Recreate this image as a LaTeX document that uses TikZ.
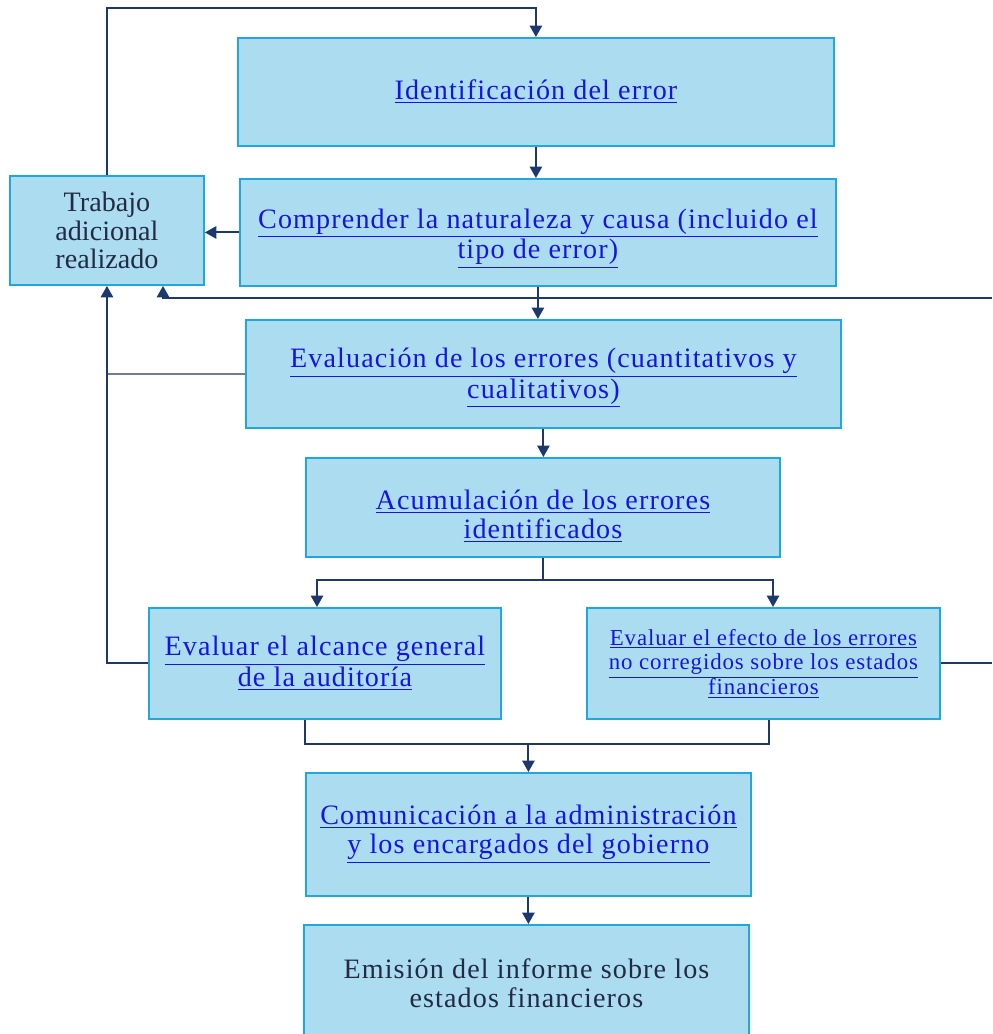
\documentclass[tikz,border=0pt]{standalone}
\usepackage{fontspec}
\setmainfont{Liberation Serif}
\newfontfamily\lkfont{Liberation Serif}[LetterSpace=4]
\usetikzlibrary{arrows.meta,calc}
\definecolor{boxfill}{RGB}{172,220,240}
\definecolor{boxline}{RGB}{30,168,222}
\definecolor{conn}{RGB}{28,56,110}
\definecolor{connlight}{RGB}{105,125,160}
\definecolor{linkblue}{RGB}{20,20,230}
\definecolor{darktext}{RGB}{35,42,70}
\newcommand\lk[1]{\underline{#1}}
\newcommand\vpush[1]{\rule{0pt}{#1}}
\begin{document}
\begin{tikzpicture}[x=0.02cm,y=-0.02cm,
  box/.style={draw=boxline,fill=boxfill,line width=1.1pt,rectangle,inner sep=0pt,anchor=north west,align=center},
  lktext/.style={text=linkblue,font=\lkfont\fontsize{16}{16.5}\selectfont},
  lksmall/.style={text=linkblue,font=\lkfont\fontsize{13}{14}\selectfont},
  dktext/.style={text=darktext,font=\fontsize{16}{16}\selectfont},
  dkwide/.style={text=darktext,font=\lkfont\fontsize{16}{16.5}\selectfont},
  ln/.style={conn,line width=1.1pt},
  lnlight/.style={connlight,line width=1.1pt},
  arr/.style={ln,-{Triangle[length=6.5pt,width=7pt]}}]
\useasboundingbox (0,0) rectangle (992,1034);
\clip (0,0) rectangle (992,1034);

% boxes
\node[box,lktext,minimum width=11.92cm,minimum height=2.16cm] (b1) at (237,37) {\lk{Identificación del error}};
\node[box,lktext,minimum width=11.92cm,minimum height=2.14cm] (b2) at (239,178) {\vpush{18pt}\lk{Comprender la naturaleza y causa (incluido el}\\\lk{tipo de error)}};
\node[box,dktext,minimum width=3.88cm,minimum height=2.18cm] (tr) at (9,175) {Trabajo\\adicional\\realizado};
\node[box,lktext,minimum width=11.90cm,minimum height=2.16cm] (b4) at (245,319) {\vpush{15.5pt}\lk{Evaluación de los errores (cuantitativos y}\\\lk{cualitativos)}};
\node[box,lktext,minimum width=9.48cm,minimum height=1.98cm] (b5) at (305,457) {\vpush{21pt}\lk{Acumulación de los errores}\\\lk{identificados}};
\node[box,lktext,minimum width=7.04cm,minimum height=2.22cm] (b6) at (148,607) {\lk{Evaluar el alcance general}\\\lk{de la auditoría}};
\node[box,lksmall,minimum width=7.06cm,minimum height=2.22cm] (b7) at (586,607) {\lk{Evaluar el efecto de los errores}\\\lk{no corregidos sobre los estados}\\\lk{financieros}};
\node[box,lktext,minimum width=8.90cm,minimum height=2.46cm] (b8) at (305,772) {\lk{Comunicación a la administración}\\\lk{y los encargados del gobierno}};
\node[box,dkwide,minimum width=8.90cm,minimum height=2.32cm] (b9) at (303,924) {Emisión del informe sobre los\\estados financieros};

% helper coordinates
\coordinate (top) at (0,8);
\coordinate (rt) at (992,298);
\coordinate (tra) at ($(tr.south west)+(154,0)$);
\coordinate (s1) at ($(b5.south)+(0,22)$);
\coordinate (b6in) at ($(b6.north west)+(169,0)$);
\coordinate (b7in) at ($(b7.north west)+(187,0)$);
\coordinate (b6out) at ($(b6.south west)+(157,0)$);
\coordinate (b7out) at ($(b7.south west)+(183,0)$);
\coordinate (jm) at ($(b8.north)+(0,-28)$);

% connectors
\draw[arr] (tr.north) -- (tr.north |- top) -| (b1.north);
\draw[arr] (b1.south) -- (b1.south |- b2.north);
\draw[arr] (b2.west) -- (tr.east |- b2.west);
\draw[arr] (b2.south) -- (b2.south |- b4.north);
\draw[arr] (rt) -| (tra);
\draw[lnlight] (b4.west) -- (b4.west -| tr.south);
\draw[arr] (b6.west) -| (tr.south);
\draw[arr] (b4.south) -- (b4.south |- b5.north);
\draw[ln] (b5.south) -- (s1);
\draw[arr] (s1) -| (b6in);
\draw[arr] (s1) -| (b7in);
\draw[ln] (b7.east) -- (b7.east -| rt);
\draw[ln] (b6out) |- (jm) -| (b7out);
\draw[arr] (jm) -- (b8.north);
\draw[arr] (b8.south) -- (b8.south |- b9.north);
\end{tikzpicture}
\end{document}
